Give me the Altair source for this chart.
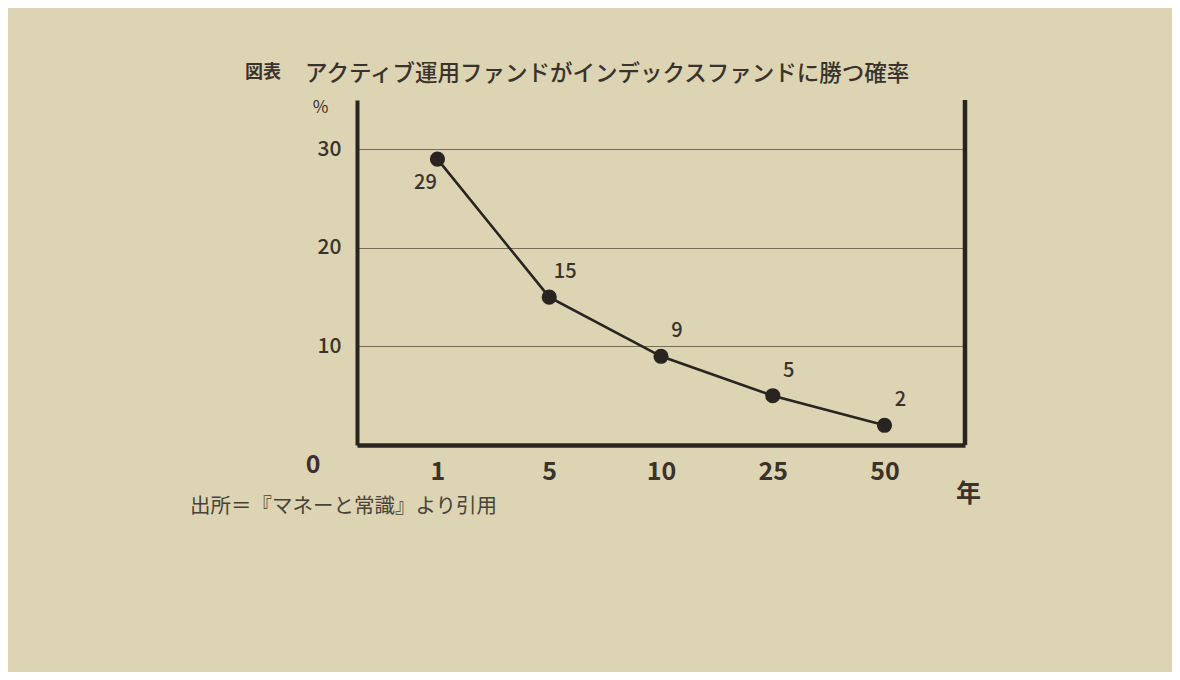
import altair as alt
import pandas as pd

# ---- data ----
years = ["1", "5", "10", "25", "50"]
win_rate = [29, 15, 9, 5, 2]
y_ticks = [10, 20, 30]

title_prefix = "図表"
title_text = "アクティブ運用ファンドがインデックスファンドに勝つ確率"
source_text = "出所＝『マネーと常識』より引用"
x_unit = "年"
y_unit = "%"
origin_label = "0"

df = pd.DataFrame({"year": years, "rate": win_rate})

W, H = 608, 345
INK = "#2a2420"
TXT = "#3a332b"
FONT = "Noto Sans CJK JP"

x_enc = alt.X(
    "year:O",
    sort=years,
    scale=alt.Scale(type="point", padding=0.72),
    axis=alt.Axis(
        title=x_unit, labelAngle=0, labelFontSize=25, labelFontWeight="bold",
        labelColor=TXT, labelPadding=14, ticks=False, grid=False,
        domainColor=INK, domainWidth=4.5,
        titleX=W + 3, titleY=48, titleFontSize=25, titleFontWeight="bold",
        titleColor=TXT, titleAlign="center", titleBaseline="middle", titleAngle=0,
    ),
)
y_enc = alt.Y(
    "rate:Q",
    scale=alt.Scale(domain=[0, 35], nice=False),
    axis=alt.Axis(
        values=y_ticks, title=y_unit, labelFontSize=21, labelFontWeight=500,
        labelColor=TXT, labelPadding=16, ticks=False,
        domainColor=INK, domainWidth=4,
        grid=True, gridColor="#766c59", gridWidth=1.2,
        titleAngle=0, titleX=-37, titleY=7, titleFontSize=17,
        titleFontWeight="normal", titleColor=TXT,
        titleAlign="center", titleBaseline="middle",
    ),
)

base = alt.Chart(df).encode(x=x_enc, y=y_enc)

line = base.mark_line(color=INK, strokeWidth=2.6)
points = base.mark_circle(color=INK, size=230, opacity=1)

label_first = base.transform_filter(alt.datum.year == years[0]).mark_text(
    font=FONT, fontSize=20, fontWeight=500, color=TXT, dx=-12, dy=24
).encode(text="rate:Q")
label_rest = base.transform_filter(alt.datum.year != years[0]).mark_text(
    font=FONT, fontSize=20, fontWeight=500, color=TXT, dx=16, dy=-25
).encode(text="rate:Q")

one = pd.DataFrame({"t": [""]})
right_frame = alt.Chart(one).mark_rule(color=INK, strokeWidth=4.5).encode(
    x=alt.value(W), y=alt.value(0), y2=alt.value(H)
)

def note(text, xv, yv, size, weight="normal", align="left", color=TXT):
    return alt.Chart(pd.DataFrame({"t": [text]})).mark_text(
        font=FONT, fontSize=size, fontWeight=weight, align=align,
        baseline="middle", color=color
    ).encode(text="t:N", x=alt.value(xv), y=alt.value(yv))

title_a = note(title_prefix, -112, -27, 18, weight="bold")
title_b = note(title_text, -52, -26, 22.5, weight=500)
origin = note(origin_label, -44, H + 20, 25, weight="bold", align="center")
source = note(source_text, -167, H + 62, 20.5, weight="normal", color="#4a4238")

chart = alt.layer(
    line, points, label_first, label_rest, right_frame,
    title_a, title_b, origin, source
).properties(
    width=W, height=H,
    padding={"left": 349, "top": 92, "right": 1164 - 349 - W, "bottom": 664 - 92 - H},
    autosize=alt.AutoSizeParams(type="none"),
).configure(
    background="#dcd4b3", font=FONT
).configure_view(stroke=None)

chart.save("out.html", embed_options={"renderer": "svg", "actions": False})
